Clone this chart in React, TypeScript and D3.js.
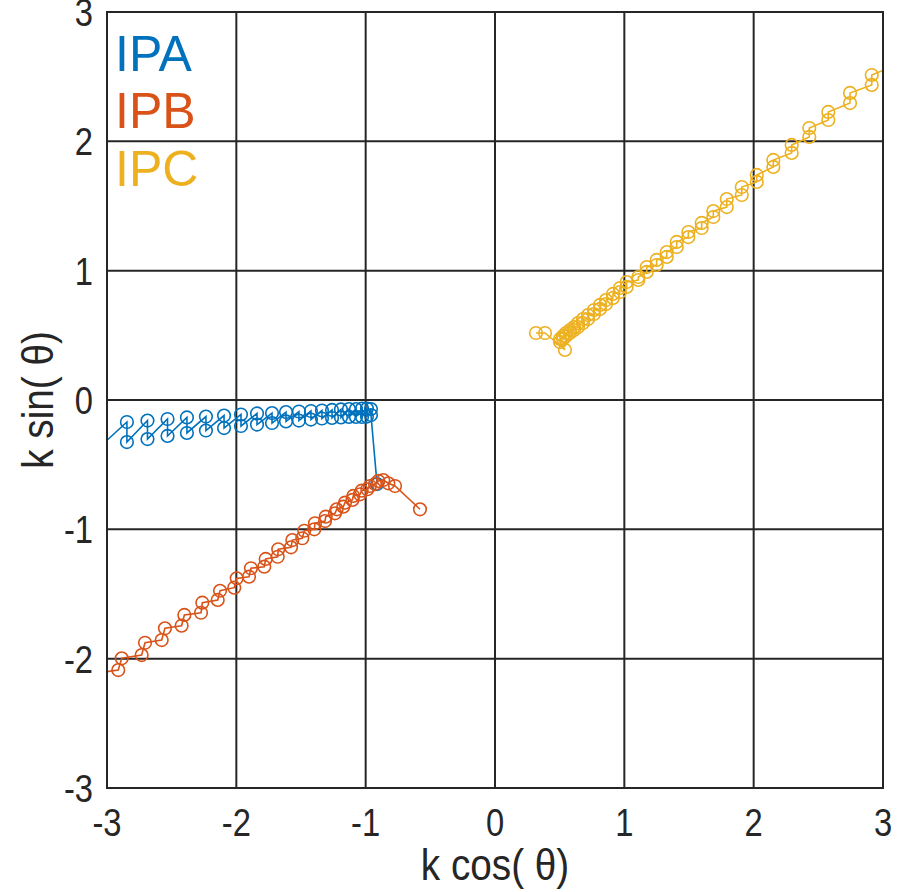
import React from "react";
import * as d3 from "d3";

// Trajectories in the (k cos θ, k sin θ) plane, listed in path order.
const ipaX = [
  -3.023,
  -2.846, -2.846, -2.687, -2.687, -2.532, -2.532, -2.382, -2.382, -2.235, -2.235,
  -2.095, -2.095, -1.964, -1.964, -1.840, -1.840, -1.724, -1.724, -1.616, -1.616,
  -1.516, -1.516, -1.423, -1.423, -1.338, -1.338, -1.260, -1.260, -1.191, -1.191,
  -1.129, -1.129, -1.075, -1.075, -1.028, -1.028, -0.990, -0.990, -0.959, -0.959,
  -0.912,
];
const ipaY = [
  -0.332,
  -0.170, -0.325, -0.159, -0.302, -0.147, -0.278, -0.135, -0.255, -0.128, -0.236,
  -0.120, -0.217, -0.112, -0.201, -0.104, -0.190, -0.101, -0.178, -0.093, -0.166,
  -0.089, -0.159, -0.085, -0.151, -0.081, -0.143, -0.077, -0.139, -0.073, -0.135,
  -0.070, -0.131, -0.070, -0.131, -0.066, -0.131, -0.066, -0.128, -0.070, -0.116,
  -0.650,
];

const ipbX = [
  -3.07,
  -2.913, -2.886, -2.732, -2.706, -2.577, -2.552, -2.423, -2.402, -2.273, -2.263,
  -2.144, -2.126, -2.016, -1.997, -1.902, -1.887, -1.784, -1.773, -1.680, -1.676,
  -1.577, -1.567, -1.490, -1.475, -1.397, -1.392, -1.314, -1.309, -1.237, -1.224,
  -1.173, -1.160, -1.103, -1.096, -1.044, -1.031, -0.987, -0.967, -0.928, -0.902,
  -0.864, -0.825, -0.773, -0.580,
];
const ipbY = [
  -2.11,
  -2.088, -1.997, -1.972, -1.877, -1.856, -1.765, -1.745, -1.662, -1.645, -1.567,
  -1.546, -1.475, -1.451, -1.379, -1.366, -1.301, -1.289, -1.229, -1.212, -1.154,
  -1.139, -1.083, -1.069, -1.011, -1.000, -0.953, -0.936, -0.902, -0.876, -0.845,
  -0.825, -0.794, -0.773, -0.742, -0.729, -0.701, -0.690, -0.665, -0.650, -0.626,
  -0.619, -0.644, -0.665, -0.845,
];

const ipcX = [
  3.08,
  2.913, 2.913, 2.745, 2.745, 2.577, 2.577, 2.430, 2.430, 2.294, 2.294,
  2.152, 2.152, 2.024, 2.024, 1.908, 1.908, 1.792, 1.792, 1.688, 1.688,
  1.598, 1.598, 1.495, 1.495, 1.405, 1.405, 1.328, 1.328, 1.250, 1.250,
  1.173, 1.173, 1.108, 1.108, 1.018, 1.018,
  0.966, 0.966, 0.912, 0.912, 0.858, 0.858, 0.812, 0.812, 0.765, 0.765,
  0.719, 0.719, 0.680, 0.680, 0.642, 0.642, 0.611, 0.611, 0.580, 0.580,
  0.549, 0.549, 0.526, 0.526, 0.503, 0.503,
  0.541, 0.387, 0.317,
];
const ipcY = [
  2.58,
  2.513, 2.436, 2.374, 2.296, 2.227, 2.165, 2.103, 2.034, 1.972, 1.910,
  1.856, 1.802, 1.740, 1.686, 1.647, 1.585, 1.554, 1.492, 1.461, 1.415,
  1.369, 1.330, 1.299, 1.260, 1.222, 1.183, 1.144, 1.106, 1.083, 1.044,
  1.028, 0.990, 0.951, 0.928, 0.912, 0.874,
  0.866, 0.835, 0.820, 0.789, 0.773, 0.742, 0.735, 0.704, 0.696, 0.665,
  0.657, 0.626, 0.626, 0.595, 0.595, 0.564, 0.564, 0.541, 0.541, 0.518,
  0.518, 0.495, 0.495, 0.472, 0.472, 0.448,
  0.387, 0.518, 0.518,
];

const seriesNames = ["IPA", "IPB", "IPC"];
const seriesColors = ["#0072BD", "#D95319", "#EDB120"];
const tickValues = [-3, -2, -1, 0, 1, 2, 3];

const W = 897;
const H = 892;
const plot = { left: 107, top: 12, right: 883, bottom: 788 };
const FONT = "'Liberation Sans', Arial, Helvetica, sans-serif";

export default function App() {
  const x = d3.scaleLinear().domain([-3, 3]).range([plot.left, plot.right]);
  const y = d3.scaleLinear().domain([-3, 3]).range([plot.bottom, plot.top]);

  const series = [
    { xs: ipaX, ys: ipaY },
    { xs: ipbX, ys: ipbY },
    { xs: ipcX, ys: ipcY },
  ].map((s, i) => {
    const pts = s.xs.map((v, j) => [v, s.ys[j]] as [number, number]);
    return { name: seriesNames[i], color: seriesColors[i], pts };
  });

  const line = d3
    .line<[number, number]>()
    .x((d) => x(d[0]))
    .y((d) => y(d[1]));

  const inside = (d: [number, number]) =>
    d[0] >= -3 && d[0] <= 3 && d[1] >= -3 && d[1] <= 3;

  const gridColor = "#262626";

  return (
    <svg
      width={W}
      height={H}
      style={{ position: "absolute", left: 0, top: 0, background: "#fff" }}
      fontFamily={FONT}
    >
      <defs>
        <clipPath id="plot-clip">
          <rect
            x={plot.left}
            y={plot.top}
            width={plot.right - plot.left}
            height={plot.bottom - plot.top}
          />
        </clipPath>
      </defs>

      {/* grid */}
      <g stroke={gridColor} strokeWidth={2}>
        {tickValues.map((t) => (
          <line key={"gx" + t} x1={x(t)} x2={x(t)} y1={plot.top} y2={plot.bottom} />
        ))}
        {tickValues.map((t) => (
          <line key={"gy" + t} x1={plot.left} x2={plot.right} y1={y(t)} y2={y(t)} />
        ))}
      </g>

      {/* data */}
      <g clipPath="url(#plot-clip)">
        {series.map((s) => (
          <g key={s.name}>
            <path d={line(s.pts) || ""} fill="none" stroke={s.color} strokeWidth={1.6} />
            {s.pts.filter(inside).map((d, j) => (
              <circle
                key={j}
                cx={x(d[0])}
                cy={y(d[1])}
                r={6.3}
                fill="none"
                stroke={s.color}
                strokeWidth={1.6}
              />
            ))}
          </g>
        ))}
      </g>

      {/* box */}
      <rect
        x={plot.left}
        y={plot.top}
        width={plot.right - plot.left}
        height={plot.bottom - plot.top}
        fill="none"
        stroke={gridColor}
        strokeWidth={2}
      />

      {/* x tick labels */}
      <g fontSize={39} fill="#262626" textAnchor="middle">
        {tickValues.map((t) => (
          <text
            key={"tx" + t}
            transform={`translate(${x(t)},${plot.bottom + 48}) scale(0.84,1)`}
          >
            {t}
          </text>
        ))}
      </g>

      {/* y tick labels */}
      <g fontSize={39} fill="#262626" textAnchor="end">
        {tickValues.map((t) => (
          <text
            key={"ty" + t}
            transform={`translate(${plot.left - 14},${y(t) + 14}) scale(0.84,1)`}
          >
            {t}
          </text>
        ))}
      </g>

      {/* axis labels */}
      <text
        transform={`translate(${(plot.left + plot.right) / 2},${H - 12}) scale(0.88,1)`}
        textAnchor="middle"
        fontSize={44}
        fill="#262626"
      >
        k cos( θ)
      </text>
      <text
        transform={`translate(53,${(plot.top + plot.bottom) / 2}) rotate(-90) scale(0.88,1)`}
        textAnchor="middle"
        fontSize={44}
        fill="#262626"
      >
        k sin( θ)
      </text>

      {/* legend */}
      <g fontSize={50}>
        {series.map((s, i) => (
          <text key={"lg" + s.name} x={115} y={71 + i * 57.3} fill={s.color}>
            {s.name}
          </text>
        ))}
      </g>
    </svg>
  );
}
